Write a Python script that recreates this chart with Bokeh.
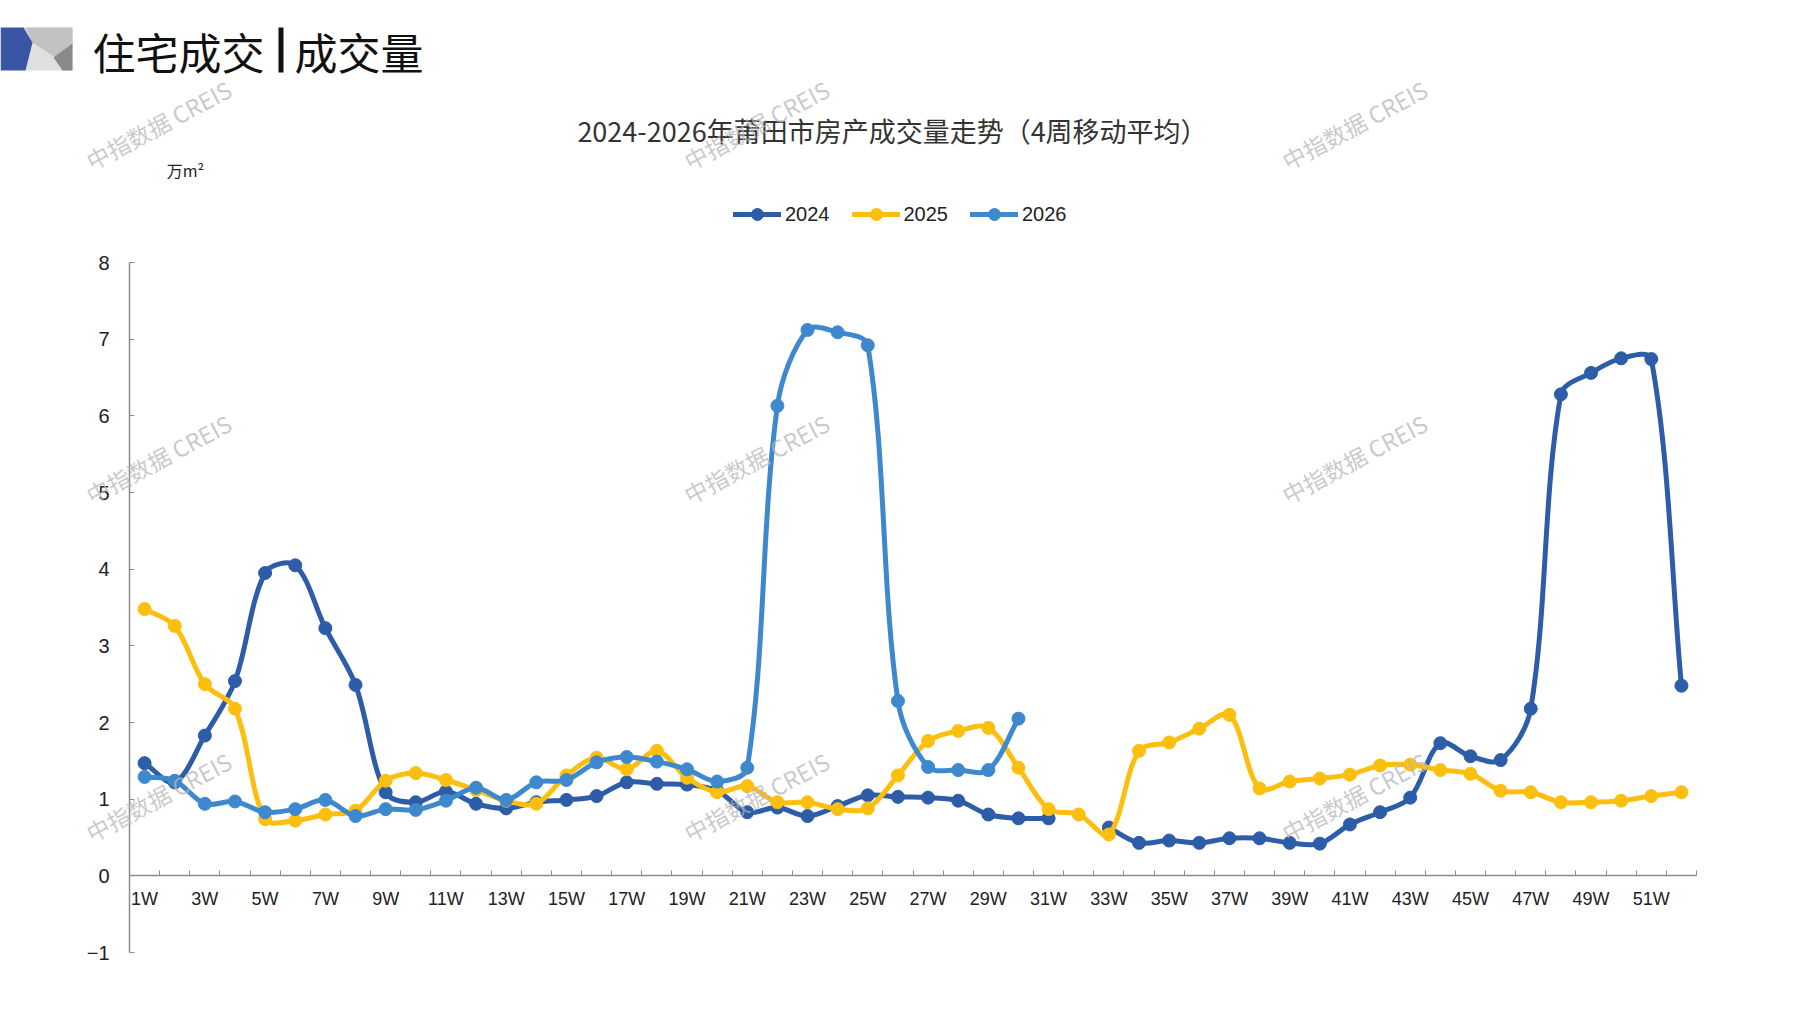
import math

from bokeh.core.properties import value
from bokeh.embed import file_html
from bokeh.models import (ColumnDataSource, FixedTicker, Label, Legend,
                          LegendItem, PolyAnnotation, Range1d)
from bokeh.plotting import figure
from bokeh.resources import INLINE

# ---- data (万㎡, 4-week moving average) ----
weeks = [f"{i}W" for i in range(1, 53)]

vol_2024 = [1.47, 1.22, 1.83, 2.54, 3.95, 4.05, 3.23, 2.49, 1.09, 0.96,
            1.10, 0.94, 0.88, 0.96, 0.99, 1.04, 1.22, 1.20, 1.19, 1.11,
            0.83, 0.89, 0.78, 0.91, 1.05, 1.03, 1.02, 0.98, 0.80, 0.75,
            0.75, None, 0.63, 0.43, 0.46, 0.43, 0.49, 0.49, 0.43, 0.42,
            0.67, 0.83, 1.02, 1.73, 1.56, 1.51, 2.18, 6.28, 6.56, 6.75,
            6.74, 2.48]

vol_2025 = [3.48, 3.26, 2.50, 2.18, 0.74, 0.72, 0.80, 0.85, 1.24, 1.34,
            1.25, 1.12, 0.98, 0.94, 1.31, 1.54, 1.39, 1.63, 1.28, 1.09,
            1.17, 0.96, 0.96, 0.87, 0.88, 1.31, 1.76, 1.89, 1.93, 1.41,
            0.87, 0.80, 0.54, 1.63, 1.74, 1.92, 2.10, 1.14, 1.23, 1.27,
            1.32, 1.44, 1.45, 1.38, 1.33, 1.11, 1.09, 0.96, 0.96, 0.98,
            1.04, 1.09]

vol_2026 = [1.29, 1.24, 0.94, 0.97, 0.83, 0.87, 0.99, 0.78, 0.87, 0.86,
            0.98, 1.15, 0.99, 1.22, 1.25, 1.48, 1.55, 1.49, 1.39, 1.23,
            1.41, 6.13, 7.12, 7.09, 6.92, 2.28, 1.42, 1.38, 1.38, 2.05]

series = [("2024", vol_2024, "#2D5CA8"),
          ("2025", vol_2025, "#FCBF10"),
          ("2026", vol_2026, "#3E88CE")]

y_ticks = [-1, 0, 1, 2, 3, 4, 5, 6, 7, 8]
y_labels = ["\u22121", "0", "1", "2", "3", "4", "5", "6", "7", "8"]

title = "2024-2026年莆田市房产成交量走势（4周移动平均）"
watermark = "中指数据 CREIS"

# page geometry: the frame fills the whole canvas, the axes sit inside it
W, H = 1790, 1000
BOTTOM = 40                  # room kept for the x tick labels
PX_X = 1567 / 52             # px per week
PX_Y = 690 / 9               # px per 万㎡
X0, Y8 = 129, 262            # canvas px of x = 0.5 and y = 8
FRAME_B = H - BOTTOM


def smooth_segments(vals):
    """Bezier pieces between neighbouring points, like Excel's smoothed line."""
    pts = [(i + 1, v) if v is not None else None for i, v in enumerate(vals)]

    def dist(a, b):
        return math.hypot((b[0] - a[0]) * PX_X, (b[1] - a[1]) * PX_Y)

    def handles(i):
        # control offsets leaving / entering point i
        p = pts[i]
        prev = pts[i - 1] if i > 0 and pts[i - 1] else p
        nxt = pts[i + 1] if i + 1 < len(pts) and pts[i + 1] else p
        tx, ty = nxt[0] - prev[0], nxt[1] - prev[1]
        d_in, d_out = dist(prev, p), dist(p, nxt)
        tot = d_in + d_out or 1.0
        f_out, f_in = d_out / tot / 3, d_in / tot / 3
        return (tx * f_out, ty * f_out), (tx * f_in, ty * f_in)

    out = dict(x0=[], y0=[], x1=[], y1=[], cx0=[], cy0=[], cx1=[], cy1=[])
    for i in range(len(pts) - 1):
        a, b = pts[i], pts[i + 1]
        if a is None or b is None:
            continue
        h_out, _ = handles(i)
        _, h_in = handles(i + 1)
        out["x0"].append(a[0])
        out["y0"].append(a[1])
        out["x1"].append(b[0])
        out["y1"].append(b[1])
        out["cx0"].append(a[0] + h_out[0])
        out["cy0"].append(a[1] + h_out[1])
        out["cx1"].append(b[0] - h_in[0])
        out["cy1"].append(b[1] - h_in[1])
    return ColumnDataSource(out)


x_start = 0.5 - X0 / PX_X
x_end = 52.5 + (W - (X0 + 1567)) / PX_X
y_end = 8 + Y8 / PX_Y
y_start = -1 - (FRAME_B - (Y8 + 690)) / PX_Y

p = figure(width=W, height=H,
           x_range=Range1d(x_start, x_end), y_range=Range1d(y_start, y_end),
           output_backend="svg", toolbar_location=None,
           min_border_left=0, min_border_right=0,
           min_border_top=0, min_border_bottom=BOTTOM)
p.background_fill_color = "white"
p.border_fill_color = "white"
p.outline_line_color = None
p.xgrid.visible = False
p.ygrid.visible = False

# x axis on y = 0, a label on every other week, ticks between the weeks
p.xaxis.fixed_location = 0
p.xaxis.bounds = (0.5, 52.5)
p.xaxis.ticker = FixedTicker(ticks=list(range(1, 53, 2)),
                             minor_ticks=[k + 0.5 for k in range(0, 53)])
p.xaxis.major_label_overrides = {i + 1: weeks[i] for i in range(0, 52, 2)}
p.xaxis.major_tick_in = 0
p.xaxis.major_tick_out = 0
p.xaxis.minor_tick_in = 5
p.xaxis.minor_tick_out = 0
p.xaxis.minor_tick_line_color = "#8c8c8c"
p.xaxis.axis_line_color = "#8c8c8c"
p.xaxis.axis_line_width = 1.5
p.xaxis.major_label_standoff = 13
p.xaxis.major_label_text_font = "Liberation Sans Narrow, Liberation Sans"
p.xaxis.major_label_text_font_size = "18px"
p.xaxis.major_label_text_color = "#222222"

# y axis line and ticks; its numbers are drawn as text next to it
p.yaxis.fixed_location = 0.5
p.yaxis.bounds = (-1, 8)
p.yaxis.ticker = FixedTicker(ticks=y_ticks)
p.yaxis.major_label_overrides = {t: "" for t in y_ticks}
p.yaxis.major_label_standoff = 0
p.yaxis.major_tick_in = 5
p.yaxis.major_tick_out = 0
p.yaxis.minor_tick_line_color = None
p.yaxis.major_tick_line_color = "#8c8c8c"
p.yaxis.axis_line_color = "#8c8c8c"
p.yaxis.axis_line_width = 1.5

ylab = ColumnDataSource(dict(x=[0.5] * len(y_ticks), y=y_ticks, t=y_labels))
p.text("x", "y", text="t", source=ylab, x_offset=-20, text_align="right",
       text_baseline="middle", text_font=value("Liberation Sans"),
       text_font_size="20px", text_color="#222222")

items = []
for name, vals, color in series:
    seg = smooth_segments(vals)
    b = p.bezier(x0="x0", y0="y0", x1="x1", y1="y1", cx0="cx0", cy0="cy0",
                 cx1="cx1", cy1="cy1", source=seg, line_color=color,
                 line_width=5, line_cap="round", line_join="round")
    pts = ColumnDataSource(dict(
        x=[i + 1 for i, v in enumerate(vals) if v is not None],
        y=[v for v in vals if v is not None]))
    s = p.scatter("x", "y", source=pts, size=13, fill_color=color,
                  line_color=color)
    items.append(LegendItem(label=name, renderers=[b, s]))


def sy(y):
    return FRAME_B - y


legend = Legend(items=items, orientation="horizontal",
                location=(733, sy(214 + 15)),
                glyph_width=48, glyph_height=30, label_standoff=4, spacing=22,
                padding=0, margin=0, border_line_color=None,
                background_fill_alpha=0, label_text_font="Liberation Sans",
                label_text_font_size="20px", label_text_color="#222222")
p.add_layout(legend, "center")

# ---- page decorations (screen px: x from the left, y from the frame bottom) ----
icon = [
    ([23, 72, 72, 23], [27, 27, 70, 70], "#e0e0e0"),
    ([25, 72, 72, 55, 32], [27, 27, 45, 57, 42], "#c2c2c2"),
    ([53, 72, 72, 62], [57, 43, 70, 70], "#8a8a8a"),
    ([0, 23, 32, 25, 0], [27, 27, 42, 70, 70], "#3A55A4"),
    ([278, 283, 283, 278], [27, 27, 72, 72], "#111111"),
]
for xs, ys, col in icon:
    p.add_layout(PolyAnnotation(xs=xs, ys=[sy(v) for v in ys],
                                xs_units="screen", ys_units="screen",
                                fill_color=col, fill_alpha=1, line_color=None))

head_font = "Noto Sans CJK SC"
p.add_layout(Label(x=92, y=sy(50), x_units="screen", y_units="screen",
                   text="住宅成交", text_font=head_font, text_font_size="43px",
                   text_baseline="middle", text_color="#111111"))
p.add_layout(Label(x=294, y=sy(50), x_units="screen", y_units="screen",
                   text="成交量", text_font=head_font, text_font_size="43px",
                   text_baseline="middle", text_color="#111111"))

p.add_layout(Label(x=892, y=sy(130), x_units="screen", y_units="screen",
                   text=title, text_font=head_font, text_font_size="27px",
                   text_align="center", text_baseline="middle",
                   text_color="#333333"))
p.add_layout(Label(x=185, y=sy(169), x_units="screen", y_units="screen",
                   text="万m²", text_font=head_font, text_font_size="16px",
                   text_align="center", text_baseline="middle",
                   text_color="#222222"))

for wx in (158, 756, 1354):
    for wy in (124, 458, 796):
        p.add_layout(Label(x=wx, y=sy(wy), x_units="screen", y_units="screen",
                           text=watermark, text_font=head_font,
                           text_font_size="23px", text_align="center",
                           text_baseline="middle", angle=math.radians(28),
                           text_color="#b8b8b8", text_alpha=0.75))

open("out.html", "w").write(file_html(p, INLINE))
